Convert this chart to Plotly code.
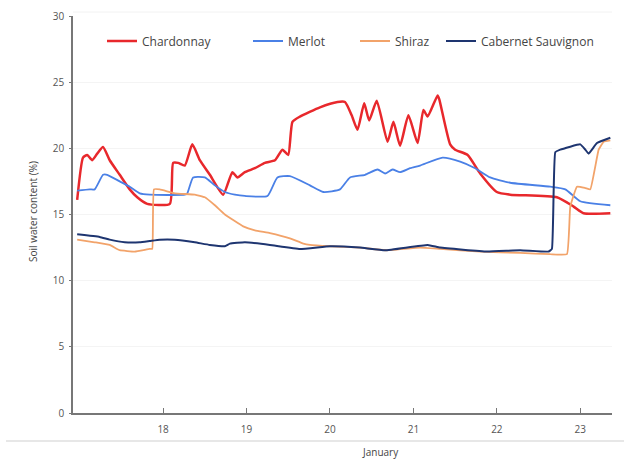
import plotly.graph_objects as go

# Soil water content (%) by grape variety, 17-23 January
chardonnay_day = [16.97, 17.04, 17.09, 17.15, 17.21, 17.28, 17.36, 17.48, 17.60, 17.69,
                  17.81, 18.08, 18.12, 18.18, 18.26, 18.35, 18.44, 18.56, 18.72, 18.83,
                  18.89, 18.98, 19.10, 19.22, 19.34, 19.43, 19.50, 19.55, 19.64, 19.88,
                  20.09, 20.18, 20.26, 20.33, 20.41, 20.47, 20.56, 20.69, 20.76, 20.84,
                  20.94, 21.05, 21.12, 21.17, 21.29, 21.31, 21.44, 21.50, 21.65, 21.80,
                  22.00, 22.16, 22.72, 22.92, 23.04, 23.36]
chardonnay_val = [16.1, 19.3, 19.5, 19.1, 19.6, 20.1, 19.1, 18.0, 16.9, 16.3,
                  15.8, 15.8, 18.9, 18.9, 18.7, 20.3, 19.1, 18.0, 16.5, 18.2,
                  17.8, 18.2, 18.5, 18.9, 19.1, 19.9, 19.5, 22.0, 22.4, 23.1,
                  23.5, 23.5, 22.5, 21.4, 23.4, 22.1, 23.6, 20.5, 22.0, 20.2,
                  22.5, 20.4, 22.9, 22.4, 24.0, 23.7, 20.3, 19.9, 19.5, 18.1,
                  16.7, 16.5, 16.3, 15.6, 15.1, 15.1]

merlot_day = [16.97, 17.12, 17.18, 17.28, 17.33, 17.48, 17.60, 17.72, 17.84, 18.26,
              18.29, 18.36, 18.50, 18.62, 18.74, 18.86, 18.98, 19.25, 19.37, 19.52,
              19.76, 19.92, 20.12, 20.24, 20.42, 20.57, 20.66, 20.75, 20.84, 20.96,
              21.08, 21.35, 21.56, 21.74, 21.92, 22.16, 22.64, 22.82, 23.00, 23.36]
merlot_val = [16.8, 16.9, 16.9, 18.0, 18.0, 17.5, 17.1, 16.6, 16.5, 16.5,
              16.6, 17.8, 17.8, 17.2, 16.7, 16.5, 16.4, 16.4, 17.8, 17.9,
              17.2, 16.7, 16.9, 17.8, 18.0, 18.4, 18.1, 18.4, 18.2, 18.5,
              18.7, 19.3, 19.0, 18.5, 17.8, 17.4, 17.1, 16.9, 16.0, 15.7]

shiraz_day = [16.97, 17.18, 17.36, 17.48, 17.66, 17.84, 17.87, 17.89, 17.96, 18.14,
              18.38, 18.50, 18.62, 18.74, 18.96, 19.10, 19.28, 19.52, 19.68, 19.76,
              20.00, 20.36, 20.66, 21.08, 21.32, 21.80, 22.28, 22.64, 22.84, 22.88,
              22.96, 23.06, 23.12, 23.22, 23.28, 23.36]
shiraz_val = [13.1, 12.9, 12.7, 12.3, 12.2, 12.4, 12.4, 16.9, 16.9, 16.6,
              16.5, 16.3, 15.7, 15.0, 14.1, 13.8, 13.6, 13.2, 12.8, 12.7,
              12.6, 12.5, 12.3, 12.5, 12.4, 12.2, 12.1, 12.0, 12.0, 15.6,
              17.1, 17.0, 16.9, 19.9, 20.5, 20.6]

cabernet_day = [16.97, 17.24, 17.36, 17.54, 17.72, 17.84, 17.96, 18.14, 18.38, 18.56,
                18.74, 18.80, 18.98, 19.28, 19.64, 20.00, 20.36, 20.66, 21.17, 21.32,
                21.88, 22.28, 22.62, 22.66, 22.70, 22.76, 23.00, 23.06, 23.10, 23.20,
                23.36]
cabernet_val = [13.5, 13.3, 13.1, 12.9, 12.9, 13.0, 13.1, 13.1, 12.9, 12.7,
                12.6, 12.8, 12.9, 12.7, 12.4, 12.6, 12.5, 12.3, 12.7, 12.5,
                12.2, 12.3, 12.2, 12.4, 19.7, 19.9, 20.3, 19.9, 19.6, 20.4,
                20.8]

day_ticks = [18, 19, 20, 21, 22, 23]
value_ticks = [0, 5, 10, 15, 20, 25, 30]

# plot area in pixels: x 73..612, y 16..413
PLOT_L, PLOT_R, PLOT_T, PLOT_B = 73, 612, 16, 413
PW, PH = PLOT_R - PLOT_L, PLOT_B - PLOT_T


def px_x(p):
    return (p - PLOT_L) / PW


def px_y(p):
    return (PLOT_B - p) / PH


# name, x, y, colour, width, spline smoothing, legend left edge (px)
series = [
    ("Chardonnay", chardonnay_day, chardonnay_val, "#e8282c", 2.5, 0.5, 102),
    ("Merlot", merlot_day, merlot_val, "#4a80e6", 1.8, 0.5, 248),
    ("Shiraz", shiraz_day, shiraz_val, "#f2a36a", 1.8, 0.3, 355),
    ("Cabernet Sauvignon", cabernet_day, cabernet_val, "#1e3570", 2.0, 0.3, 441),
]

fig = go.Figure()
layout_legends = {}
for i, (name, xs, ys, color, width, smooth, lx) in enumerate(series):
    key = "legend" if i == 0 else f"legend{i + 1}"
    fig.add_trace(go.Scatter(x=xs, y=ys, mode="lines", name=name,
                             line=dict(color=color, width=width,
                                       shape="spline", smoothing=smooth),
                             legend=key))
    layout_legends[key] = dict(
        x=px_x(lx), xanchor="left", y=px_y(41), yanchor="middle",
        orientation="h", bgcolor="rgba(0,0,0,0)", borderwidth=0,
        font=dict(family="Open Sans", size=12, color="#444"),
        itemwidth=30, tracegroupgap=0,
    )

fig.update_layout(
    width=624, height=459,
    margin=dict(l=PLOT_L, r=624 - PLOT_R, t=PLOT_T, b=459 - PLOT_B,
                autoexpand=False),
    paper_bgcolor="white", plot_bgcolor="white",
    showlegend=True,
    **layout_legends,
    xaxis=dict(
        range=[16.92, 23.38], tickvals=day_ticks,
        ticktext=[str(d) for d in day_ticks],
        showgrid=False, zeroline=False,
        showline=True, linecolor="#777", linewidth=1.5,
        ticks="inside", ticklen=5, tickcolor="#777", tickwidth=1.2,
        ticklabelstandoff=6,
        tickfont=dict(family="Open Sans", size=10, color="#555"),
    ),
    yaxis=dict(
        range=[0, 30], tickvals=value_ticks,
        showgrid=True, gridcolor="#f4f4f4", zeroline=False,
        showline=True, linecolor="#777", linewidth=1.5,
        ticks="outside", ticklen=2, tickcolor="#777",
        ticklabelstandoff=3,
        tickfont=dict(family="Open Sans", size=10, color="#555"),
    ),
    annotations=[
        dict(text="January", xref="paper", yref="paper",
             x=px_x(380), y=px_y(452),
             xanchor="center", yanchor="middle", showarrow=False,
             font=dict(family="Open Sans", size=10, color="#444")),
        dict(text="Soil water content (%)", xref="paper", yref="paper",
             x=px_x(33), y=px_y(212), textangle=-90,
             xanchor="center", yanchor="middle", showarrow=False,
             font=dict(family="Open Sans", size=10, color="#444")),
    ],
    shapes=[
        dict(type="line", xref="paper", yref="paper",
             x0=px_x(6), x1=px_x(624), y0=px_y(441), y1=px_y(441),
             line=dict(color="#d0d0d0", width=1.2)),
        dict(type="line", xref="paper", yref="paper",
             x0=0, x1=1, y0=px_y(12), y1=px_y(12),
             line=dict(color="#f2f2f2", width=1)),
    ],
)

fig.write_html("out.html")
